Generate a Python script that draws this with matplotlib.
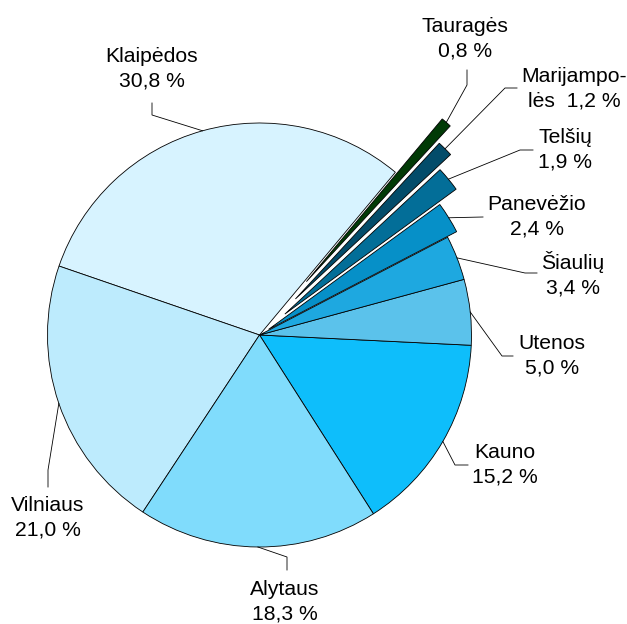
import numpy as np
import matplotlib
matplotlib.use("Agg")
import matplotlib.pyplot as plt

plt.rcParams['font.family'] = ['Liberation Sans', 'DejaVu Sans']

# data, counter-clockwise from the Kauno slice
regions = ['Kauno', 'Utenos', 'Šiaulių', 'Panevėžio', 'Telšių',
           'Marijampolės', 'Tauragės', 'Klaipėdos', 'Vilniaus', 'Alytaus']
shares = [15.2, 5.0, 3.4, 2.4, 1.9, 1.2, 0.8, 30.8, 21.0, 18.3]
label_names = ['Kauno', 'Utenos', 'Šiaulių', 'Panevėžio', 'Telšių',
               'Marijampo-\nlės', 'Tauragės', 'Klaipėdos', 'Vilniaus', 'Alytaus']

colors = ['#0ebefb', '#5bc2eb', '#1ea8e0', '#0690c8', '#036e98',
          '#034c6a', '#013a06', '#d7f3ff', '#bdebfd', '#80dcfc']
explode = [0, 0, 0, 0.05, 0.155, 0.24, 0.335, 0, 0, 0]

W, H = 627, 624
# label layout in pixels from the top: text centre, leader start, leader elbow
text_pos = [(505, 465), (552, 355.5), (573, 274), (537, 216.5), (565, 149.5),
            (574, 89), (465, 38.5), (152, 69), (48, 518), (285, 601.5)]
lead_start = [(468, 465), (513, 356), (537, 273), (483, 217), (533, 150),
              (517, 88), (467, 70), (152, 103), (48, 487), (287, 570)]
lead_elbow = [(455, 465), (502, 356), (525, 273), (483, 217), (520, 150),
              (505, 88), (467, 85), (152, 115), (48, 470), (287, 557)]


def fmt(v):
    return ('%.1f' % v).replace('.', ',') + ' %'


def main():
    fig = plt.figure(figsize=(W / 100, H / 100), dpi=100)
    ax = fig.add_axes([0, 0, 1, 1])
    cx, cy, r = 259.5, H - 335, 212
    # pie() takes explode as an absolute offset, so scale it by the radius
    wedges, _ = ax.pie(shares, colors=colors, explode=[e * r for e in explode],
                       startangle=-57.5, counterclock=True, radius=r,
                       center=(cx, cy), frame=False,
                       wedgeprops=dict(edgecolor='black', linewidth=0.6))
    ax.set_xlim(0, W)
    ax.set_ylim(0, H)
    ax.set_aspect('equal')
    ax.axis('off')

    for i, w in enumerate(wedges):
        mid = np.deg2rad((w.theta1 + w.theta2) / 2)
        ex = w.center[0] + w.r * np.cos(mid)
        ey = w.center[1] + w.r * np.sin(mid)
        sx, sy = lead_start[i]
        bx, by = lead_elbow[i]
        ax.plot([sx, bx, ex], [H - sy, H - by, ey], color='black', lw=0.6)
        if regions[i] == 'Marijampolės':
            txt = label_names[i] + '  ' + fmt(shares[i])
        else:
            txt = label_names[i] + '\n' + fmt(shares[i])
        tx, ty = text_pos[i]
        ax.text(tx, H - ty, txt, ha='center', va='center', fontsize=15.2,
                linespacing=1.35, color='black')

    fig.savefig('out.png', dpi=100)


if __name__ == "__main__":
    main()
